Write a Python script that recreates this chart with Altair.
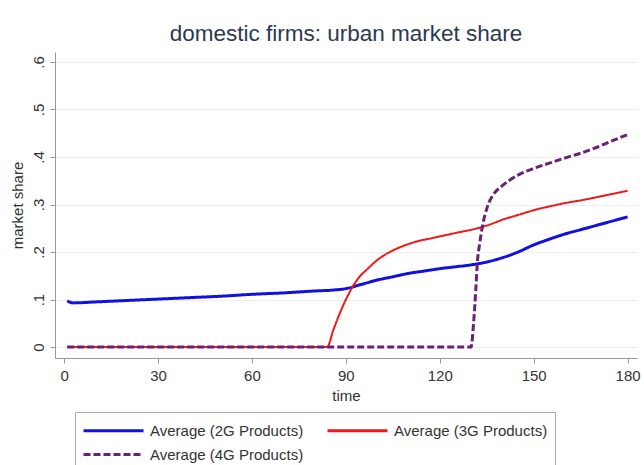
import altair as alt
import pandas as pd

t_2g = [1, 3, 10, 20, 30, 40, 50, 60, 70, 80, 86, 90, 95, 100, 105, 110, 115, 120, 125, 130, 135, 140, 145, 150, 155, 160, 165, 170, 175, 180]
v_2g = [0.097, 0.093, 0.095, 0.098, 0.101, 0.104, 0.107, 0.111, 0.114, 0.118, 0.120, 0.123, 0.132, 0.141, 0.148, 0.155, 0.160, 0.165, 0.169, 0.173, 0.179, 0.188, 0.200, 0.215, 0.227, 0.238, 0.247, 0.256, 0.265, 0.274]

t_3g = [1, 84, 86, 88, 90, 92, 94, 97, 100, 104, 108, 112, 118, 125, 132, 136, 140, 145, 150, 155, 160, 166, 172, 180]
v_3g = [0.0, 0.0, 0.036, 0.07, 0.10, 0.125, 0.145, 0.165, 0.183, 0.200, 0.212, 0.221, 0.230, 0.240, 0.250, 0.258, 0.268, 0.278, 0.288, 0.296, 0.303, 0.310, 0.318, 0.329]

t_4g = [1, 130, 130.8, 131.5, 132, 132.8, 133.6, 135.2, 137, 139.5, 142, 145, 150, 155, 160, 165, 170, 175, 180]
v_4g = [0.0, 0.0, 0.05, 0.12, 0.177, 0.22, 0.253, 0.295, 0.32, 0.337, 0.35, 0.362, 0.376, 0.387, 0.398, 0.408, 0.42, 0.434, 0.447]

series = ["Average (2G Products)", "Average (3G Products)", "Average (4G Products)"]
colors = ["#1010e0", "#f01818", "#6a1f78"]
dashes = [[1, 0], [1, 0], [7, 3]]
widths = [3, 2, 3]

rows = []
for name, ts, vs in zip(series, [t_2g, t_3g, t_4g], [v_2g, v_3g, v_4g]):
    for i, (t, v) in enumerate(zip(ts, vs)):
        rows.append({"time": t, "share": v, "series": name, "order": i})
df = pd.DataFrame(rows)

font = "Liberation Sans"

base = alt.Chart(df).encode(
    x=alt.X("time:Q", title="time",
            scale=alt.Scale(domain=[-2.9, 183], nice=False, zero=False),
            axis=alt.Axis(values=[0, 30, 60, 90, 120, 150, 180], grid=False,
                          tickSize=5, labelPadding=5, titlePadding=5)),
    y=alt.Y("share:Q", title="market share",
            scale=alt.Scale(domain=[-0.023, 0.621], nice=False, zero=False),
            axis=alt.Axis(values=[0, 0.1, 0.2, 0.3, 0.4, 0.5, 0.6], grid=True,
                          labelAngle=-90, labelAlign="center", labelBaseline="bottom",
                          labelExpr="datum.value == 0 ? '0' : replace(format(datum.value, '.1f'), '0.', '.')",
                          tickSize=5, labelPadding=4, titlePadding=6)),
    color=alt.Color("series:N", title=None,
                    scale=alt.Scale(domain=series, range=colors),
                    legend=alt.Legend(orient="none", legendX=20, legendY=360, columns=2,
                                      direction="horizontal",
                                      symbolType="M-1,0H5", symbolSize=400,
                                      symbolStrokeWidth=3, columnPadding=17,
                                      rowPadding=4, labelFontSize=15, labelOffset=45,
                                      strokeColor="#aaaaaa", padding=7, labelLimit=300,
                                      labelFont=font, labelColor="#333333")),
    strokeDash=alt.StrokeDash("series:N", title=None,
                              scale=alt.Scale(domain=series, range=dashes)),
    order="order:Q",
)

layers = [
    base.transform_filter(alt.datum.series == name).mark_line(interpolate="monotone", strokeWidth=w)
    for name, w in zip(series, widths)
]

chart = alt.layer(*layers).properties(
    width=582, height=306,
    padding={"left": 55, "top": 52, "right": 7, "bottom": 107},
    autosize=alt.AutoSizeParams(type="none"),
    background="white",
    title=alt.TitleParams("domestic firms: urban market share", fontSize=22.5,
                          font=font, fontWeight="normal", color="#2b3a4f",
                          anchor="middle", offset=7),
).configure_view(stroke=None).configure_axis(
    domainColor="#999999", tickColor="#999999", gridColor="#eeeeee",
    labelFont=font, titleFont=font, labelFontSize=15, titleFontSize=15,
    labelColor="#333333", titleColor="#333333", titleFontWeight="normal",
)

chart.save("out.html", embed_options={"renderer": "svg", "actions": False})
